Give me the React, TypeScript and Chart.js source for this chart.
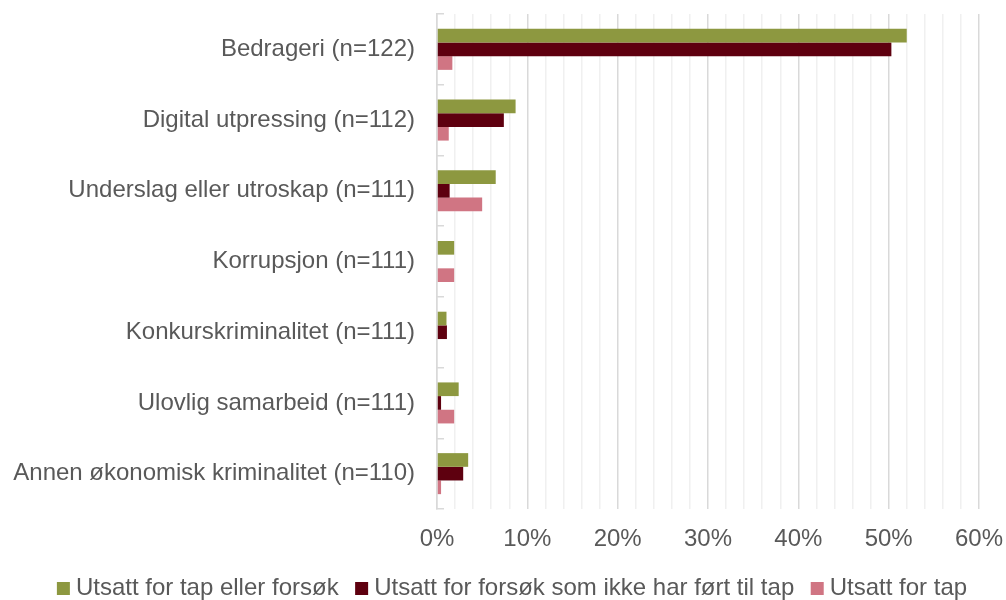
import React, { useEffect, useRef } from "react";
import { Chart, registerables } from "chart.js";

Chart.register(...registerables);

const categories: string[] = [
  "Bedrageri (n=122)",
  "Digital utpressing (n=112)",
  "Underslag eller utroskap (n=111)",
  "Korrupsjon (n=111)",
  "Konkurskriminalitet (n=111)",
  "Ulovlig samarbeid (n=111)",
  "Annen økonomisk kriminalitet (n=110)",
];

const seriesNames: string[] = [
  "Utsatt for tap eller forsøk",
  "Utsatt for forsøk som ikke har ført til tap",
  "Utsatt for tap",
];

const tapEllerForsok: number[] = [52.0, 8.7, 6.5, 1.9, 1.05, 2.4, 3.45];
const forsokUtenTap: number[] = [50.3, 7.4, 1.4, 0, 1.1, 0.45, 2.9];
const tap: number[] = [1.7, 1.3, 5.0, 1.9, 0, 1.9, 0.45];

const xMin = 0;
const xMax = 60;
const xStep = 2;
const xLabelEvery = 10;

const colors = ["#8D9840", "#5E000F", "#D07583"];

const legendShift = {
  id: "legendShift",
  afterLayout(chart: any) {
    const lg = chart.legend;
    if (lg) {
      lg.left += 25.5;
      lg.right += 25.5;
    }
  },
};

export default function App() {
  const canvasRef = useRef<HTMLCanvasElement | null>(null);

  useEffect(() => {
    if (!canvasRef.current) return;
    const font = { family: "'Liberation Sans', Arial, sans-serif", size: 24 };
    const chart = new Chart(canvasRef.current, {
      type: "bar",
      data: {
        labels: categories,
        datasets: [tapEllerForsok, forsokUtenTap, tap].map((d, i) => ({
          label: seriesNames[i],
          data: d,
          backgroundColor: colors[i],
          borderWidth: 0,
          barPercentage: 1,
          categoryPercentage: 0.58,
        })),
      },
      plugins: [legendShift],
      options: {
        indexAxis: "y",
        animation: false,
        responsive: false,
        maintainAspectRatio: false,
        layout: { padding: { top: 14, right: 27, bottom: -10.5, left: 0 } },
        plugins: {
          tooltip: { enabled: false },
          legend: {
            position: "bottom",
            labels: {
              usePointStyle: true,
              pointStyle: "rect",
              boxWidth: 1,
              boxHeight: 13,
              padding: 22.5,
              color: "#595959",
              font,
            },
          },
        },
        scales: {
          x: {
            min: xMin,
            max: xMax,
            ticks: {
              stepSize: xStep,
              autoSkip: false,
              maxRotation: 0,
              padding: 15.5,
              color: "#595959",
              font,
              callback: (v: any) => (Number(v) % xLabelEvery === 0 ? v + "%" : ""),
            },
            grid: {
              drawTicks: false,
              color: (ctx: any) =>
                ctx.tick && ctx.tick.value % xLabelEvery === 0 ? "#D9D9D9" : "#F0F0F0",
              lineWidth: 1.5,
            },
            border: { display: false },
            afterFit: (scale: any) => {
              scale.height = 45;
              scale.paddingLeft = 0;
              scale.paddingRight = 0;
            },
          },
          y: {
            ticks: {
              padding: 29,
              color: "#595959",
              font,
              autoSkip: false,
            },
            grid: {
              offset: true,
              drawOnChartArea: false,
              drawTicks: true,
              tickLength: -7,
              color: "#D9D9D9",
              lineWidth: 1.5,
            },
            border: { display: true, color: "#D9D9D9", width: 1.5 },
            afterFit: (scale: any) => {
              scale.width = 437;
              scale.paddingTop = 0;
              scale.paddingBottom = 0;
            },
          },
        },
      },
    });
    return () => chart.destroy();
  }, []);

  return (
    <div style={{ position: "fixed", left: 0, top: 0, width: 1006, height: 600, background: "#fff" }}>
      <canvas ref={canvasRef} width={1006} height={600} />
    </div>
  );
}
